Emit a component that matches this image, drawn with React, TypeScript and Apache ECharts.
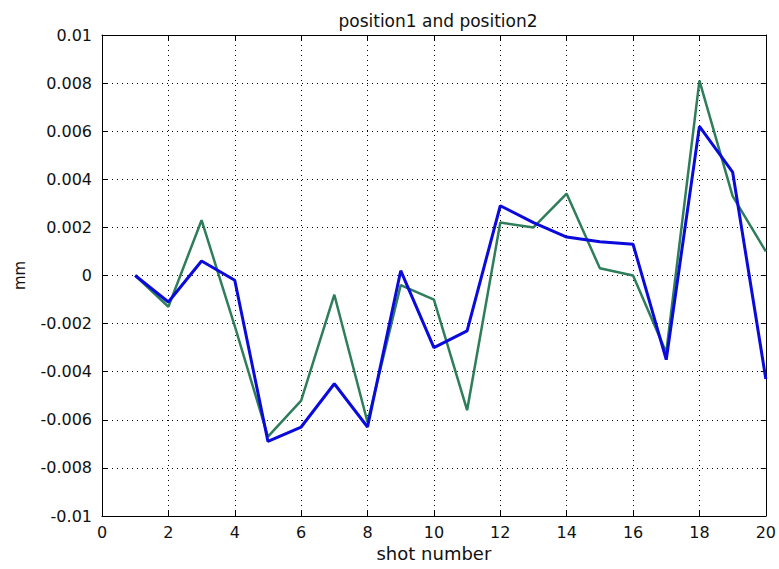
import React, { useEffect, useRef } from "react";
import * as echarts from "echarts";

const shots = [1, 2, 3, 4, 5, 6, 7, 8, 9, 10, 11, 12, 13, 14, 15, 16, 17, 18, 19, 20];
const position1 = [0, -0.0013, 0.0023, -0.0021, -0.0067, -0.0052, -0.0008, -0.0061, -0.0004, -0.001, -0.0056, 0.0022, 0.002, 0.0034, 0.0003, 0, -0.0032, 0.0081, 0.0033, 0.001];
const position2 = [0, -0.0011, 0.0006, -0.0002, -0.0069, -0.0063, -0.0045, -0.0063, 0.0002, -0.003, -0.0023, 0.0029, 0.0022, 0.0016, 0.0014, 0.0013, -0.0035, 0.0062, 0.0043, -0.0043];
const yTicks = ["-0.01", "-0.008", "-0.006", "-0.004", "-0.002", "0", "0.002", "0.004", "0.006", "0.008", "0.01"];

const FONT = "DejaVu Sans";

export default function App() {
  const ref = useRef<HTMLDivElement>(null);
  useEffect(() => {
    if (!ref.current) return;
    const chart = echarts.init(ref.current, undefined, { renderer: "svg" });
    const toPairs = (arr: number[]) => shots.map((s, i) => [s, arr[i]]);
    const splitLine = { show: true, lineStyle: { color: "#000", type: [1, 4] as any, width: 1 } };
    const axisLine = { show: true, onZero: false, lineStyle: { color: "#000", width: 1 } };
    const tick = { show: true, inside: true, length: 5, lineStyle: { color: "#000" } };
    chart.setOption({
      animation: false,
      backgroundColor: "#fff",
      title: {
        text: "position1 and position2",
        left: 433,
        textAlign: "center",
        top: 7,
        textStyle: { fontFamily: FONT, fontSize: 17, fontWeight: "normal", color: "#111" },
      },
      grid: { left: 102, right: 11, top: 35, bottom: 53, containLabel: false },
      xAxis: [
        {
          type: "value",
          min: 0,
          max: 20,
          interval: 2,
          name: "shot number",
          nameLocation: "middle",
          nameGap: 28,
          nameTextStyle: { fontFamily: FONT, fontSize: 18, color: "#111" },
          axisLine,
          axisTick: tick,
          axisLabel: { fontFamily: FONT, fontSize: 16, color: "#111", margin: 8 },
          splitLine,
        },
        {
          type: "value",
          position: "top",
          min: 0,
          max: 20,
          interval: 2,
          axisLine,
          axisTick: tick,
          axisLabel: { show: false },
          splitLine: { show: false },
        },
      ],
      yAxis: [
        {
          type: "value",
          min: -0.01,
          max: 0.01,
          interval: 0.002,
          name: "mm",
          nameLocation: "middle",
          nameGap: 82,
          nameRotate: 90,
          nameTextStyle: { fontFamily: FONT, fontSize: 15, color: "#111", verticalAlign: "middle" },
          axisLine,
          axisTick: tick,
          axisLabel: {
            fontFamily: FONT,
            fontSize: 16,
            color: "#111",
            margin: 10,
            formatter: (v: number) => {
              const idx = Math.round((v + 0.01) / 0.002);
              return yTicks[idx] ?? "";
            },
          },
          splitLine,
        },
        {
          type: "value",
          position: "right",
          min: -0.01,
          max: 0.01,
          interval: 0.002,
          axisLine,
          axisTick: tick,
          axisLabel: { show: false },
          splitLine: { show: false },
        },
      ],
      series: [
        {
          name: "position1",
          type: "line",
          data: toPairs(position1),
          showSymbol: false,
          lineStyle: { color: "#2E7D5B", width: 2.5 },
          itemStyle: { color: "#2E7D5B" },
        },
        {
          name: "position2",
          type: "line",
          data: toPairs(position2),
          showSymbol: false,
          lineStyle: { color: "#0A0ADC", width: 3 },
          itemStyle: { color: "#0A0ADC" },
        },
      ],
    });
    return () => chart.dispose();
  }, []);
  return <div ref={ref} style={{ width: 779, height: 569, position: "absolute", left: 0, top: 0 }} />;
}
